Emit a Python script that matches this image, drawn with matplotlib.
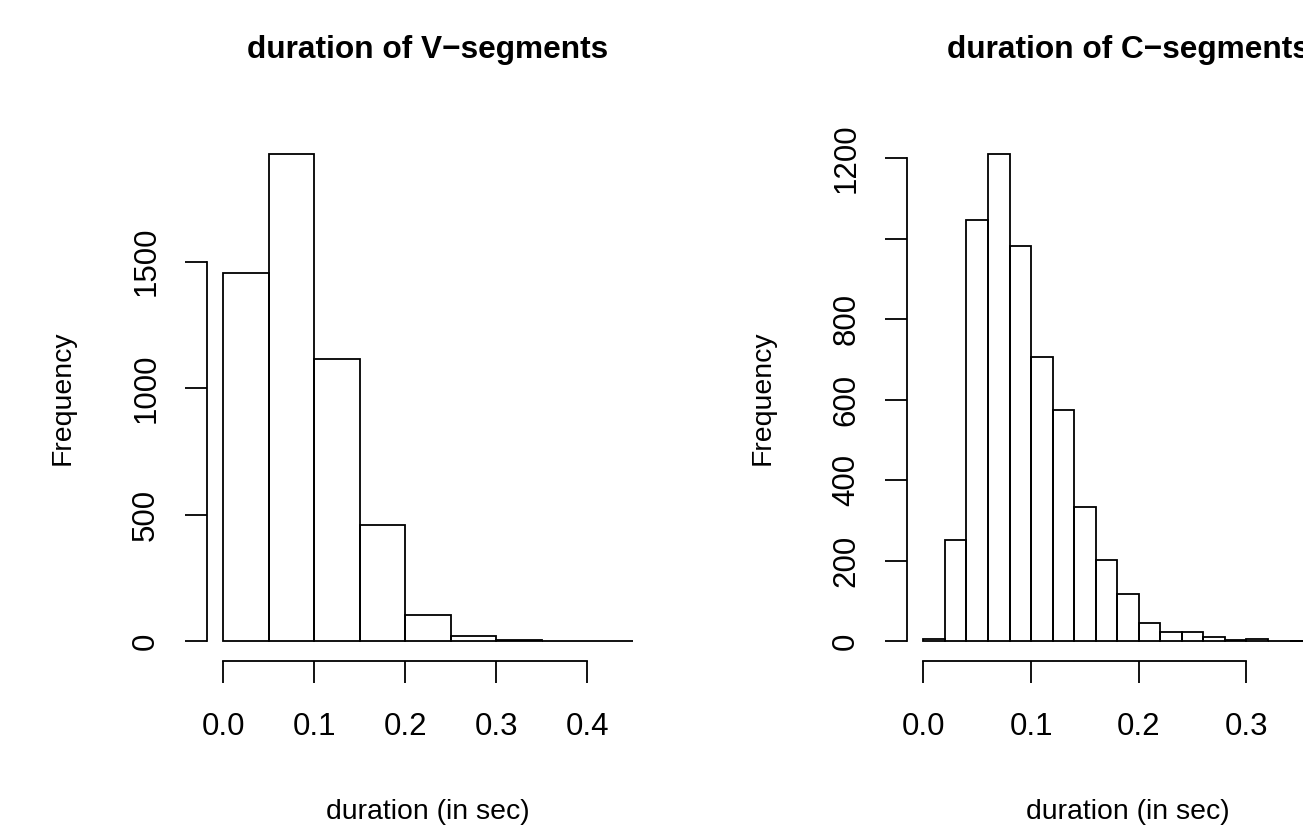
import numpy as np
import matplotlib
matplotlib.use("Agg")
import matplotlib.pyplot as plt

plt.rcParams['font.family'] = ['Liberation Sans', 'DejaVu Sans']

# V-segments: 0.05 s bins
v_edges = [0.0, 0.05, 0.10, 0.15, 0.20, 0.25, 0.30, 0.35, 0.40, 0.45]
v_counts = [1455, 1925, 1115, 458, 103, 20, 4, 0, 1]
v_yticks = [0, 500, 1000, 1500]
v_xticks = [0.0, 0.1, 0.2, 0.3, 0.4]

# C-segments: 0.02 s bins
c_edges = [round(0.02 * i, 2) for i in range(20)]
c_counts = [5, 251, 1045, 1210, 982, 705, 573, 334, 202, 117,
            46, 22, 23, 9, 2, 4, 0, 1, 1]
c_yticks = [0, 200, 400, 600, 800, 1000, 1200]
c_ytlabels = ['0', '200', '400', '600', '800', '', '1200']
c_xticks = [0.0, 0.1, 0.2, 0.3]

W, H = 1303, 826
fig = plt.figure(figsize=(W / 100, H / 100), dpi=100)

LW = 1.3


def hist_panel(x0, edges, counts, yticks, ytlabels, xticks, title):
    # plot region in pixels (R style: 4% padding around data)
    top, bottom = 134.5, 660.5
    pw = 442
    ax = fig.add_axes([x0 / W, 1 - bottom / H, pw / W, (bottom - top) / H])
    edges = np.array(edges)
    counts = np.array(counts)
    rng = edges[-1] - edges[0]
    ax.set_xlim(edges[0] - 0.04 * rng, edges[-1] + 0.04 * rng)
    ymax = counts.max()
    ax.set_ylim(-0.04 * ymax, ymax * 1.04)
    ax.bar(edges[:-1], counts, width=np.diff(edges), align='edge',
           fill=False, edgecolor='black', linewidth=LW)
    for s in ['top', 'right']:
        ax.spines[s].set_visible(False)
    ax.spines['bottom'].set_bounds(xticks[0], xticks[-1])
    ax.spines['left'].set_bounds(yticks[0], yticks[-1])
    for s in ['bottom', 'left']:
        ax.spines[s].set_linewidth(LW)
    ax.set_xticks(xticks)
    ax.set_xticklabels(['%.1f' % t for t in xticks])
    ax.set_yticks(yticks)
    ax.set_yticklabels(ytlabels, rotation=90, va='center')
    ax.tick_params(axis='both', direction='out', length=16, width=LW,
                   labelsize=22.5)
    ax.tick_params(axis='x', pad=21)
    ax.tick_params(axis='y', pad=17)
    cx = x0 + pw / 2
    fig.text(cx / W, 1 - 58 / H, title, ha='center', va='baseline',
             fontsize=22.8, fontweight='bold')
    fig.text(cx / W, 1 - 819 / H, 'duration (in sec)', ha='center',
             va='baseline', fontsize=20.4)
    fig.text((x0 - 144) / W, 1 - 397.5 / H, 'Frequency', ha='center',
             va='center', rotation=90, fontsize=20.4)
    return ax


hist_panel(207, v_edges, v_counts, v_yticks, [str(t) for t in v_yticks],
           v_xticks, 'duration of V\u2212segments')
hist_panel(907, c_edges, c_counts, c_yticks, c_ytlabels,
           c_xticks, 'duration of C\u2212segments')

fig.savefig('out.png', dpi=100)
